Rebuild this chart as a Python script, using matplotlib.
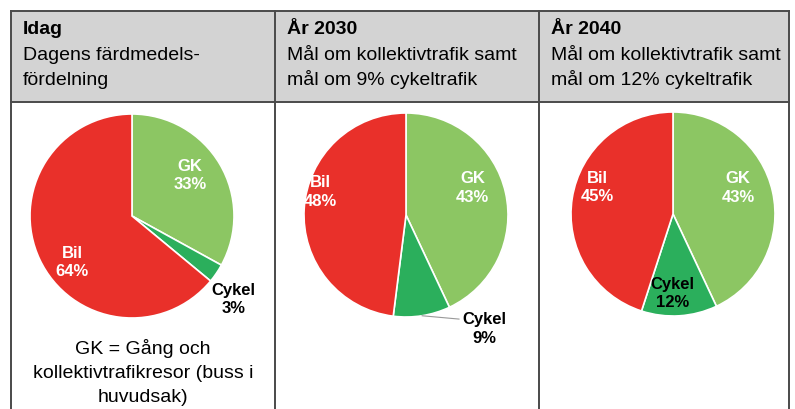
import numpy as np
import matplotlib.pyplot as plt

plt.rcParams["font.family"] = ["Liberation Sans", "DejaVu Sans"]

# data
modes = ["GK", "Cykel", "Bil"]
idag = [33, 3, 64]
ar2030 = [43, 9, 48]
ar2040 = [43, 12, 45]

titles = ["Idag", "År 2030", "År 2040"]
subtitles = [
    "Dagens färdmedels-\nfördelning",
    "Mål om kollektivtrafik samt\nmål om 9% cykeltrafik",
    "Mål om kollektivtrafik samt\nmål om 12% cykeltrafik",
]
note = "GK = Gång och\nkollektivtrafikresor (buss i\nhuvudsak)"

colors = ["#8CC663", "#2BAF5C", "#E9302A"]
label_colors = ["white", "black", "white"]

W, H = 795, 410
fig = plt.figure(figsize=(W / 100, H / 100), dpi=100)
ax = fig.add_axes([0, 0, 1, 1])


def Y(y):
    # image rows -> plot y
    return H - y


# table
left, right, top, head_bot = 11, 789, 12, 103
cols = [left, 275, 539, right]
ax.add_patch(plt.Rectangle((left, Y(head_bot)), right - left, head_bot - top,
                           facecolor="#D3D3D3", edgecolor="none", zorder=0))
for x in cols:
    ax.plot([x, x], [Y(top), Y(H + 5)], color="#4a4a4a", lw=1.4, zorder=1)
for y in [top, head_bot]:
    ax.plot([left, right], [Y(y), Y(y)], color="#4a4a4a", lw=1.4, zorder=1)

for i in range(3):
    x0 = cols[i] + 12
    ax.text(x0, Y(34), titles[i], fontsize=14, fontweight="bold", va="baseline")
    for j, line in enumerate(subtitles[i].split("\n")):
        ax.text(x0, Y(60 + 25 * j), line, fontsize=14, va="baseline")

for j, line in enumerate(note.split("\n")):
    ax.text((cols[0] + cols[1]) / 2, Y(354 + 24 * j), line, fontsize=14,
            ha="center", va="baseline")

# pies
centers = [(132, 217), (406, 216), (673, 215)]
radius = 102
# (distance as fraction of radius, angle nudge in degrees) per label
placement = [
    [(0.70, 5), (1.28, -5), (0.735, 12)],
    [(0.71, 10), (None, 0), (0.87, -12)],
    [(0.69, 10), (0.77, -4), (0.79, -11)],
]
lab_kw = dict(fontsize=12, fontweight="bold", linespacing=1.3,
              ha="center", va="center")

for k, vals in enumerate([idag, ar2030, ar2040]):
    cx, cy = centers[k]
    wedges, _ = ax.pie(vals, colors=colors, startangle=90, counterclock=False,
                       center=(cx, Y(cy)), radius=radius, frame=True,
                       wedgeprops=dict(edgecolor="white", linewidth=1.2))
    for m, w in enumerate(wedges):
        mid = (w.theta1 + w.theta2) / 2
        txt = f"{modes[m]}\n{vals[m]}%"
        dist, nudge = placement[k][m]
        if dist is None:
            # label outside with leader line
            a = np.deg2rad(mid)
            ex, ey = cx + radius * np.cos(a), Y(cy) + radius * np.sin(a)
            ax.annotate(txt, xy=(ex, ey), xytext=(62, -12),
                        textcoords="offset pixels", color=label_colors[m],
                        arrowprops=dict(arrowstyle="-", color="#999999", lw=0.8,
                                        relpos=(0, 0.75), shrinkA=0, shrinkB=0),
                        **lab_kw)
            continue
        a = np.deg2rad(mid + nudge)
        ax.text(cx + dist * radius * np.cos(a), Y(cy) + dist * radius * np.sin(a),
                txt, color=label_colors[m], **lab_kw)

ax.set_xlim(0, W)
ax.set_ylim(0, H)
ax.set_aspect("auto")
ax.axis("off")

fig.savefig("out.png", dpi=100, facecolor="white")
